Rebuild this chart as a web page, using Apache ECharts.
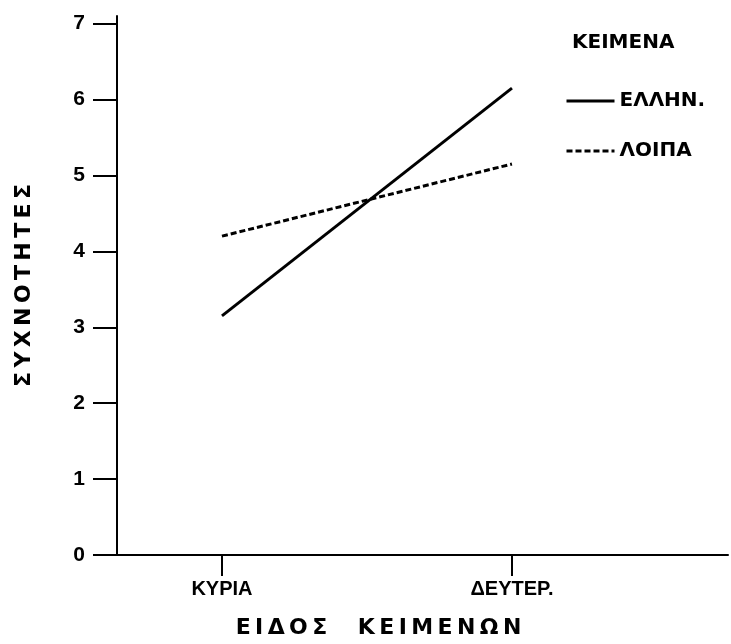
<!DOCTYPE html>
<html>
<head>
<meta charset="utf-8">
<script src="https://cdn.jsdelivr.net/npm/echarts@6/dist/echarts.min.js"></script>
<style>
html,body{margin:0;padding:0;background:#fff;}
#chart{width:731px;height:644px;}
</style>
</head>
<body>
<div id="chart"></div>
<script>
// ---- data ----
const categories = ['ΚΥΡΙΑ', 'ΔΕΥΤΕΡ.'];
const seriesNames = ['ΕΛΛΗΝ.', 'ΛΟΙΠΑ'];
const ellhnValues = [3.15, 6.15];
const loipaValues = [4.2, 5.15];
const yTicks = [0, 1, 2, 3, 4, 5, 6, 7];
const legendTitle = 'ΚΕΙΜΕΝΑ';
const xTitle = 'ΕΙΔΟΣ ΚΕΙΜΕΝΩΝ';
const yTitle = 'ΣΥΧΝΟΤΗΤΕΣ';

function spaced(str, sep) {
  return str.split(' ').map(w => w.split('').join(sep)).join('    ');
}
const catIdx = categories.map((c, i) => i);
const toPairs = vals => vals.map((v, i) => [i, v]);

const chart = echarts.init(document.getElementById('chart'), null, {renderer: 'canvas'});
const option = {
  backgroundColor: '#ffffff',
  animation: false,
  title: {
    text: legendTitle,
    left: 567,
    top: 28,
    textStyle: {fontFamily: 'DejaVu Sans', fontWeight: 'bold', fontSize: 20, color: '#000'}
  },
  legend: {
    orient: 'vertical',
    left: 565,
    top: 91,
    padding: 0,
    itemWidth: 48,
    itemHeight: 20,
    itemGap: 30,
    data: seriesNames,
    itemStyle: {opacity: 0},
    lineStyle: {width: 3},
    textStyle: {fontFamily: 'DejaVu Sans', fontWeight: 'bold', fontSize: 20, color: '#000'}
  },
  grid: {left: 117, right: 3, top: 16, bottom: 88, containLabel: false},
  xAxis: {
    type: 'value',
    min: -0.362,
    max: 1.745,
    name: spaced(xTitle, '\u2009'),
    nameLocation: 'middle',
    nameGap: 62,
    nameTextStyle: {fontFamily: 'DejaVu Sans', fontWeight: 'bold', fontSize: 22, color: '#000', padding: [0, 88, 0, 0]},
    axisLine: {show: true, onZero: false, lineStyle: {color: '#000', width: 2}},
    axisTick: {show: true, customValues: catIdx, length: 21, inside: false, lineStyle: {color: '#000', width: 2}},
    axisLabel: {
      customValues: catIdx,
      formatter: v => categories[Math.round(v)] || '',
      margin: 24,
      fontFamily: 'Liberation Sans', fontWeight: 'bold', fontSize: 20, color: '#000'
    },
    splitLine: {show: false}
  },
  yAxis: {
    type: 'value',
    min: 0,
    max: 7.1,
    name: spaced(yTitle, '\u2009'),
    nameLocation: 'middle',
    nameGap: 82,
    nameRotate: 90,
    nameTextStyle: {fontFamily: 'DejaVu Sans', fontWeight: 'bold', fontSize: 22, color: '#000'},
    axisLine: {show: true, onZero: false, lineStyle: {color: '#000', width: 2}},
    axisTick: {show: true, customValues: yTicks, length: 24, inside: false, lineStyle: {color: '#000', width: 2}},
    axisLabel: {
      customValues: yTicks,
      margin: 32,
      fontFamily: 'Liberation Sans', fontWeight: 'bold', fontSize: 21, color: '#000'
    },
    splitLine: {show: false}
  },
  series: [
    {
      name: seriesNames[0],
      type: 'line',
      data: toPairs(ellhnValues),
      symbol: 'none',
      lineStyle: {color: '#000', width: 3, type: 'solid'},
      itemStyle: {color: '#000'}
    },
    {
      name: seriesNames[1],
      type: 'line',
      data: toPairs(loipaValues),
      symbol: 'none',
      lineStyle: {color: '#000', width: 3, type: [6, 3]},
      itemStyle: {color: '#000'}
    }
  ]
};
chart.setOption(option);
</script>
</body>
</html>
